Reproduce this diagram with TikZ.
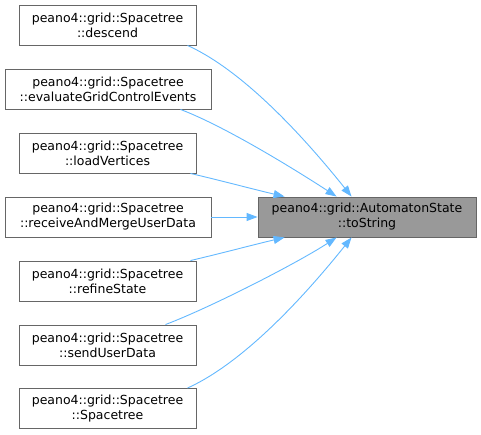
\documentclass[tikz,border=0pt]{standalone}
\usepackage{fontspec}
\setmainfont{DejaVu Sans}
\usetikzlibrary{arrows.meta}
\definecolor{edgeblue}{HTML}{63B8FF}
\definecolor{boxborder}{HTML}{666666}
\definecolor{boxfill}{HTML}{999999}
\tikzset{
  caller/.style={draw=boxborder, fill=white, line width=0.9pt, inner sep=0pt, minimum height=40pt, align=center, font=\fontsize{12.5}{15}\selectfont},
  shortbox/.style={caller, minimum width=177pt},
  longbox/.style={caller, minimum width=206pt},
  targetbox/.style={caller, fill=boxfill, minimum width=218pt},
  calledge/.style={draw=edgeblue, line width=0.9pt, -{Triangle[length=11pt,width=8pt]}, edgeblue}
}
\begin{document}
\begin{tikzpicture}[x=1pt,y=-1pt]
\useasboundingbox (0,0) rectangle (481,435);
\node[shortbox] (d) at (107.5,25) {peano4::grid::Spacetree\\::descend};
\node[longbox] (e) at (108,89) {peano4::grid::Spacetree\\::evaluateGridControlEvents};
\node[shortbox] (l) at (107.5,153) {peano4::grid::Spacetree\\::loadVertices};
\node[longbox] (r) at (108,217) {peano4::grid::Spacetree\\::receiveAndMergeUserData};
\node[shortbox] (f) at (107.5,281) {peano4::grid::Spacetree\\::refineState};
\node[shortbox] (s) at (107.5,345) {peano4::grid::Spacetree\\::sendUserData};
\node[shortbox] (c) at (107.5,408.5) {peano4::grid::Spacetree\\::Spacetree};
\node[targetbox] (t) at (367,217) {peano4::grid::AutomatonState\\::toString};

\draw[calledge] ([xshift=-9pt]d.south east) .. controls +(60,27) and +(-40,-50) .. ([xshift=94pt]t.north west);
\draw[calledge] ([xshift=-31pt]e.south east) .. controls +(45,17) and +(-40,-26) .. ([xshift=79pt]t.north west);
\draw[calledge] ([xshift=-6pt]l.south east) .. controls +(30,7) and +(-30,-7) .. ([xshift=27pt]t.north west);
\draw[calledge] (r.east) -- (t.west);
\draw[calledge] ([xshift=-6pt]f.north east) .. controls +(30,-7) and +(-30,7) .. ([xshift=27pt]t.south west);
\draw[calledge] ([xshift=-31pt]s.north east) .. controls +(45,-17) and +(-40,26) .. ([xshift=79pt]t.south west);
\draw[calledge] ([xshift=-9pt]c.north east) .. controls +(60,-27) and +(-40,50) .. ([xshift=94pt]t.south west);
\end{tikzpicture}
\end{document}
